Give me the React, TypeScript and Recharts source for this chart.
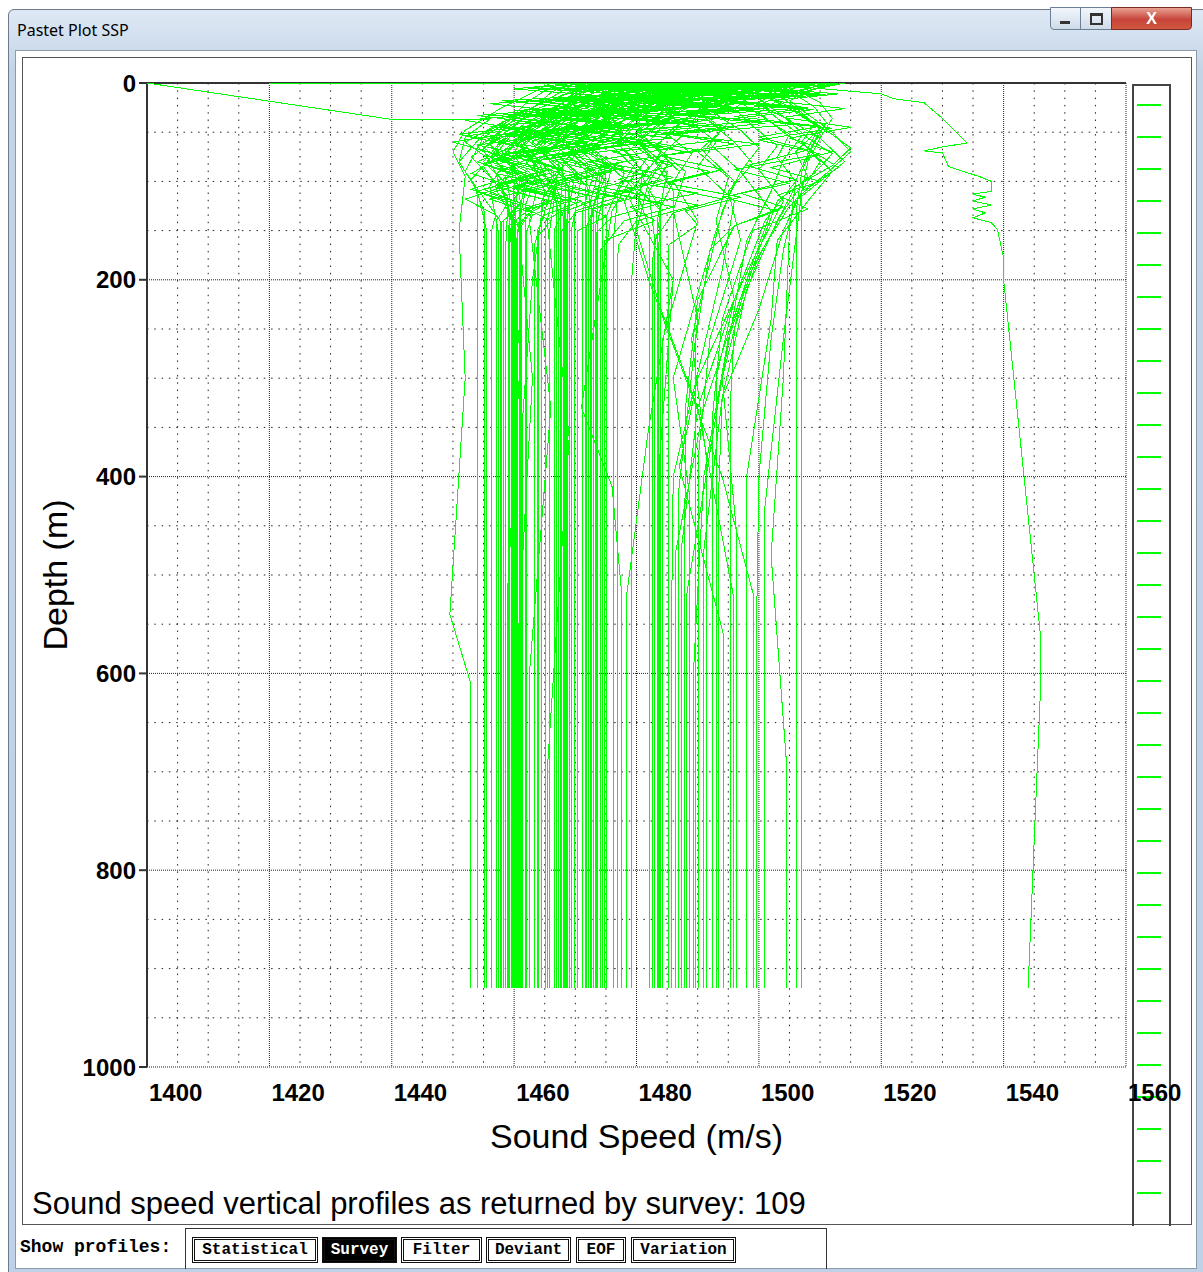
import React from 'react';
import { ScatterChart, Scatter, XAxis, YAxis, CartesianGrid } from 'recharts';

// axis ticks and grid values (m/s horizontally, m downwards)
const speedTicks = [1400, 1420, 1440, 1460, 1480, 1500, 1520, 1540, 1560];
const depthTicks = [0, 200, 400, 600, 800, 1000];
const speedMajorGrid = [1420, 1440, 1460, 1480, 1500, 1520, 1540, 1560];
const depthMajorGrid = [200, 400, 600, 800, 1000];
const speedMinorGrid = [
  1405, 1410, 1415, 1425, 1430, 1435, 1445, 1450, 1455, 1465, 1470, 1475, 1485, 1490, 1495,
  1505, 1510, 1515, 1525, 1530, 1535, 1545, 1550, 1555,
];
const depthMinorGrid = [50, 100, 150, 250, 300, 350, 450, 500, 550, 650, 700, 750, 850, 900, 950];
const topAxisTicks = [
  1400, 1405, 1410, 1415, 1420, 1425, 1430, 1435, 1440, 1445, 1450, 1455, 1460, 1465, 1470, 1475, 1480,
  1485, 1490, 1495, 1500, 1505, 1510, 1515, 1520, 1525, 1530, 1535, 1540, 1545, 1550, 1555, 1560,
];

// survey profiles, each row is speed,depth,speed,depth,...
const surveyProfiles: number[][] = [
  [1466, 0, 1463, 10, 1458, 25, 1452, 48, 1450, 70, 1452, 95, 1451, 150, 1452, 300, 1449.5, 540, 1452.9, 610, 1452.9, 920],
  [1472, 0, 1468, 12, 1461, 30, 1455, 52, 1451, 80, 1454, 110, 1454, 920],
  [1478, 0, 1470, 8, 1464, 22, 1458, 40, 1452, 60, 1456, 78, 1453, 98, 1455.1, 130, 1455.1, 920],
  [1485, 0, 1476, 6, 1472, 18, 1463, 30, 1459, 45, 1454, 65, 1458, 85, 1456, 105, 1457.4, 150, 1457.4, 920],
  [1470, 0, 1466, 15, 1460, 35, 1455, 55, 1452, 90, 1457.7, 140, 1457.7, 920],
  [1490, 0, 1484, 5, 1475, 14, 1468, 28, 1462, 40, 1458, 60, 1455, 85, 1459, 120, 1458.6, 170, 1458.6, 920],
  [1476, 0, 1471, 10, 1466, 26, 1461, 38, 1457, 58, 1453, 75, 1458.9, 115, 1461, 280, 1458.9, 520, 1458.9, 920],
  [1468, 0, 1465, 8, 1462, 20, 1458, 45, 1455, 68, 1457, 92, 1459.3, 130, 1459.3, 920],
  [1482, 0, 1478, 10, 1470, 20, 1466, 35, 1460, 50, 1457, 72, 1462, 90, 1459.6, 125, 1459.6, 920],
  [1495, 0, 1488, 6, 1480, 15, 1470, 25, 1464, 42, 1460, 62, 1457, 80, 1460, 100, 1459.9, 140, 1459.9, 920],
  [1474, 0, 1470, 12, 1468, 30, 1462, 50, 1458, 70, 1461, 95, 1460.2, 125, 1460.2, 920],
  [1480, 0, 1474, 8, 1469, 20, 1465, 36, 1459, 52, 1455, 66, 1460, 86, 1458, 104, 1460.4, 160, 1460.4, 920],
  [1487, 0, 1481, 10, 1476, 22, 1470, 32, 1466, 48, 1461, 60, 1459, 82, 1462, 105, 1460.7, 145, 1463, 300, 1460.7, 560, 1460.7, 920],
  [1471, 0, 1469, 14, 1463, 28, 1460, 44, 1456, 62, 1460, 88, 1461, 120, 1461, 920],
  [1500, 0, 1492, 5, 1485, 12, 1478, 22, 1470, 30, 1465, 45, 1461, 64, 1464, 86, 1461.8, 125, 1461.8, 920],
  [1483, 0, 1477, 12, 1473, 25, 1467, 40, 1463, 55, 1460, 75, 1464, 100, 1462.5, 140, 1466, 330, 1462.5, 600, 1462.5, 920],
  [1492, 0, 1486, 8, 1480, 18, 1474, 30, 1468, 42, 1464, 60, 1462, 80, 1466, 110, 1463.3, 165, 1463.3, 920],
  [1479, 0, 1475, 10, 1470, 24, 1467, 42, 1464, 62, 1468, 84, 1464.5, 120, 1464.5, 920],
  [1498, 0, 1490, 6, 1484, 15, 1476, 24, 1471, 38, 1466, 52, 1463, 72, 1467, 95, 1465.4, 140, 1469, 360, 1465.4, 700, 1465.4, 920],
  [1488, 0, 1482, 12, 1477, 26, 1472, 40, 1468, 58, 1464, 78, 1467, 100, 1465.8, 150, 1465.8, 920],
  [1476, 0, 1472, 6, 1478, 15, 1470, 28, 1466, 45, 1461, 60, 1463, 80, 1466, 100, 1467.2, 130, 1467.2, 920],
  [1485, 0, 1480, 10, 1486, 18, 1475, 30, 1470, 50, 1464, 68, 1468, 88, 1467.6, 120, 1467.6, 920],
  [1494, 0, 1488, 8, 1480, 16, 1473, 32, 1468, 45, 1465, 62, 1462, 82, 1466, 100, 1468, 135, 1468, 920],
  [1480, 0, 1482, 8, 1476, 20, 1470, 36, 1467, 54, 1470, 74, 1466, 96, 1468.3, 125, 1468.3, 920],
  [1502, 0, 1495, 6, 1488, 12, 1482, 22, 1476, 35, 1470, 48, 1466, 66, 1470, 90, 1468.6, 140, 1468.6, 920],
  [1473, 0, 1475, 10, 1471, 22, 1466, 40, 1463, 60, 1467, 78, 1469.1, 110, 1469.1, 920],
  [1490, 0, 1486, 12, 1479, 24, 1474, 38, 1470, 56, 1467, 72, 1471, 95, 1469.9, 135, 1469.9, 920],
  [1497, 0, 1490, 5, 1484, 14, 1486, 22, 1478, 34, 1473, 50, 1469, 70, 1473, 92, 1471.2, 130, 1471.2, 920],
  [1484, 0, 1479, 8, 1474, 22, 1472, 40, 1468, 58, 1472, 82, 1471.6, 120, 1471.6, 920],
  [1505, 0, 1498, 5, 1490, 10, 1483, 18, 1478, 30, 1474, 46, 1470, 64, 1474, 86, 1472.1, 128, 1472.1, 920],
  [1478, 0, 1476, 12, 1473, 26, 1470, 42, 1466, 60, 1470, 80, 1474, 100, 1472.5, 140, 1472.5, 920],
  [1492, 0, 1487, 8, 1482, 20, 1477, 32, 1473, 44, 1470, 62, 1475, 84, 1472.9, 125, 1472.9, 920],
  [1488, 0, 1484, 10, 1480, 22, 1476, 36, 1472, 52, 1469, 70, 1474, 95, 1473.3, 150, 1473.3, 920],
  [1499, 0, 1493, 6, 1487, 16, 1482, 28, 1477, 40, 1474, 58, 1471, 76, 1475, 100, 1473.7, 140, 1473.7, 920],
  [1481, 0, 1479, 10, 1476, 24, 1473, 40, 1471, 60, 1476, 85, 1474.5, 120, 1474.5, 920],
  [1503, 0, 1497, 5, 1490, 12, 1485, 22, 1480, 34, 1477, 50, 1473, 68, 1478, 92, 1475.1, 135, 1475.1, 920],
  [1487, 0, 1483, 8, 1480, 20, 1478, 36, 1476, 56, 1480, 80, 1477, 110, 1476.2, 160, 1476.2, 920],
  [1495, 0, 1490, 8, 1486, 18, 1482, 30, 1479, 45, 1476, 64, 1480, 88, 1476, 130, 1471, 330, 1476, 410, 1477.6, 520, 1477.6, 920],
  [1508, 0, 1500, 6, 1494, 14, 1488, 26, 1484, 40, 1480, 58, 1484, 80, 1479, 120, 1486, 200, 1482, 350, 1478.4, 520, 1478.4, 920],
  [1490, 0, 1486, 10, 1483, 24, 1480, 42, 1477, 62, 1481, 90, 1480, 140, 1479.2, 200, 1479.2, 920],
  [1486, 0, 1482, 10, 1478, 24, 1474, 40, 1470, 60, 1476, 86, 1480, 110, 1482.2, 150, 1482.2, 920],
  [1496, 0, 1490, 8, 1484, 20, 1480, 36, 1477, 52, 1482, 74, 1479, 100, 1484, 130, 1482.6, 180, 1482.6, 920],
  [1505, 0, 1499, 6, 1493, 14, 1488, 26, 1484, 42, 1480, 60, 1485, 84, 1482, 110, 1483, 160, 1483, 920],
  [1492, 0, 1490, 12, 1487, 28, 1484, 46, 1481, 66, 1485, 92, 1483.4, 140, 1483.4, 920],
  [1500, 0, 1496, 8, 1492, 20, 1490, 36, 1487, 56, 1483, 80, 1486, 110, 1486, 200, 1483.8, 380, 1483.8, 920],
  [1510, 0, 1503, 5, 1497, 12, 1492, 22, 1488, 36, 1485, 52, 1489, 72, 1486, 100, 1490, 140, 1484.3, 260, 1484.3, 920],
  [1498, 0, 1494, 10, 1491, 24, 1489, 40, 1493, 60, 1490, 85, 1496, 120, 1494, 190, 1486, 400, 1485.7, 560, 1485.7, 920],
  [1506, 0, 1500, 8, 1496, 18, 1493, 32, 1497, 48, 1500, 66, 1497, 90, 1502, 130, 1498, 200, 1491, 330, 1486.3, 480, 1486.3, 920],
  [1490, 0, 1488, 10, 1485, 26, 1487, 44, 1483, 64, 1488, 90, 1486, 130, 1490, 240, 1486.8, 420, 1486.8, 920],
  [1502, 0, 1498, 6, 1494, 16, 1490, 30, 1494, 48, 1490, 70, 1495, 96, 1493, 140, 1496, 220, 1490, 330, 1487.4, 470, 1487.4, 920],
  [1512, 0, 1506, 5, 1502, 14, 1506, 28, 1510, 46, 1506, 70, 1508, 95, 1504, 130, 1498, 200, 1494, 300, 1488.2, 520, 1488.2, 920],
  [1495, 0, 1493, 12, 1490, 28, 1494, 46, 1491, 70, 1496, 100, 1493, 150, 1486, 300, 1488.7, 420, 1488.7, 920],
  [1508, 0, 1503, 6, 1500, 16, 1504, 34, 1508, 56, 1512, 72, 1509, 92, 1503, 120, 1500, 170, 1495, 260, 1491, 400, 1489.3, 600, 1489.3, 920],
  [1500, 0, 1497, 10, 1494, 24, 1492, 40, 1496, 60, 1499, 82, 1495, 110, 1497, 160, 1492, 260, 1490.1, 380, 1490.1, 920],
  [1511, 0, 1507, 8, 1503, 18, 1500, 30, 1504, 50, 1509, 70, 1513, 86, 1507, 110, 1504, 150, 1500, 230, 1494, 320, 1490.9, 480, 1490.9, 920],
  [1497, 0, 1494, 10, 1491, 24, 1495, 40, 1492, 62, 1497, 90, 1494, 130, 1489, 260, 1491.4, 380, 1491.4, 920],
  [1504, 0, 1500, 8, 1497, 20, 1501, 36, 1505, 52, 1503, 76, 1506, 100, 1501, 140, 1496, 220, 1493, 300, 1493.1, 920],
  [1509, 0, 1505, 6, 1502, 16, 1506, 30, 1511, 48, 1515, 66, 1512, 84, 1506, 105, 1503, 140, 1498, 210, 1494, 320, 1493.4, 420, 1493.4, 920],
  [1502, 0, 1499, 12, 1496, 26, 1499, 44, 1503, 64, 1500, 88, 1504, 120, 1499, 180, 1490, 300, 1487, 390, 1494.2, 560, 1494.2, 920],
  [1513, 0, 1508, 5, 1504, 12, 1500, 22, 1505, 38, 1510, 56, 1514, 80, 1510, 100, 1505, 125, 1500, 175, 1496, 250, 1495.3, 330, 1495.3, 920],
  [1496, 0, 1492, 10, 1488, 22, 1484, 36, 1480, 52, 1485, 74, 1482, 100, 1480, 150, 1484, 230, 1490, 330, 1495.8, 520, 1495.8, 920],
  [1507, 0, 1503, 8, 1500, 20, 1503, 36, 1507, 54, 1504, 78, 1502, 110, 1498, 160, 1494, 300, 1496.4, 460, 1496.4, 920],
  [1510, 0, 1505, 6, 1502, 14, 1506, 28, 1510, 44, 1508, 66, 1512, 90, 1508, 120, 1503, 160, 1502, 240, 1498, 400, 1498, 920],
  [1494, 0, 1490, 12, 1486, 24, 1482, 40, 1478, 60, 1482, 85, 1478, 120, 1482, 200, 1488, 300, 1494, 400, 1499.1, 520, 1499.1, 920],
  [1512, 0, 1508, 8, 1505, 18, 1508, 32, 1512, 50, 1515, 70, 1511, 92, 1506, 118, 1504, 170, 1502, 260, 1500, 400, 1499.6, 560, 1499.6, 920],
  [1508, 0, 1504, 6, 1501, 14, 1505, 26, 1509, 42, 1507, 60, 1510, 80, 1507, 110, 1506, 160, 1504, 260, 1501, 430, 1501, 920],
  [1511, 0, 1507, 8, 1504, 16, 1507, 30, 1510, 48, 1508, 72, 1506, 100, 1505, 150, 1504, 300, 1502, 480, 1504.5, 690, 1504.5, 920],
  [1513, 0, 1509, 6, 1506, 12, 1509, 24, 1511, 40, 1509, 62, 1507, 90, 1506.1, 130, 1506.1, 920],
  [1514, 0, 1510, 5, 1507, 10, 1510, 20, 1512, 36, 1510, 56, 1508, 80, 1507, 110, 1507, 920],
  [1469, 0, 1466, 10, 1463, 26, 1459, 42, 1456, 62, 1460, 84, 1457, 108, 1460, 140, 1460, 920],
  [1484, 0, 1478, 10, 1472, 22, 1466, 36, 1462, 54, 1458, 74, 1462, 96, 1460.9, 130, 1460.9, 920],
  [1486, 0, 1481, 8, 1476, 22, 1471, 36, 1468, 54, 1465, 74, 1469, 100, 1468.8, 125, 1468.8, 920],
  [1493, 0, 1489, 10, 1484, 22, 1479, 34, 1475, 50, 1471, 68, 1475, 94, 1472.7, 130, 1472.7, 920],
  [1489, 0, 1487, 12, 1484, 30, 1480, 48, 1484, 70, 1481, 96, 1484, 130, 1483.6, 170, 1483.6, 920],
  [1503, 0, 1498, 6, 1494, 16, 1490, 30, 1486, 46, 1483, 66, 1487, 90, 1484, 125, 1484, 920],
  [1477, 0, 1473, 10, 1468, 24, 1464, 40, 1460, 58, 1463, 80, 1465, 110, 1463, 200, 1461.4, 340, 1461.4, 920],
  [1474, 0, 1470, 10, 1467, 24, 1462, 40, 1458, 58, 1455, 80, 1459, 104, 1459.8, 140, 1459.8, 920],
  [1480, 0, 1477, 10, 1474, 24, 1477, 42, 1472, 60, 1468, 80, 1472, 106, 1473, 140, 1473, 920],
  [1475, 0, 1472, 8, 1469, 20, 1465, 34, 1461, 52, 1465, 72, 1468.4, 100, 1468.4, 920],
  [1482, 0, 1470, 4, 1488, 9, 1466, 15, 1480, 21, 1460, 28, 1474, 35, 1456, 44, 1468, 52, 1454, 63, 1463, 75, 1457, 92, 1466, 104, 1456, 118, 1463, 132, 1459, 150, 1459, 920],
  [1495, 0, 1478, 5, 1497, 11, 1472, 17, 1490, 24, 1468, 31, 1484, 40, 1462, 50, 1475, 60, 1460, 72, 1468, 88, 1461, 100, 1472, 114, 1462, 128, 1466, 140, 1464, 155, 1464, 920],
  [1504, 0, 1486, 4, 1500, 10, 1480, 16, 1496, 22, 1476, 30, 1492, 38, 1470, 47, 1486, 56, 1468, 66, 1478, 80, 1469, 94, 1480, 108, 1471, 122, 1475, 136, 1470.4, 150, 1470.4, 920],
  [1476, 0, 1464, 6, 1480, 12, 1460, 19, 1472, 26, 1455, 34, 1466, 42, 1452, 54, 1462, 66, 1456, 80, 1463, 94, 1455, 108, 1461, 122, 1458.2, 140, 1458.2, 920],
  [1509, 0, 1492, 5, 1506, 10, 1488, 16, 1503, 23, 1484, 30, 1500, 39, 1480, 48, 1494, 58, 1476, 70, 1486, 84, 1477, 98, 1490, 112, 1479, 126, 1483, 140, 1474.8, 160, 1474.8, 920],
  [1488, 0, 1474, 5, 1492, 10, 1470, 18, 1486, 25, 1465, 33, 1478, 41, 1461, 50, 1472, 60, 1458, 72, 1467, 86, 1459, 100, 1468, 114, 1463, 128, 1461.2, 145, 1461.2, 920],
  [1499, 0, 1484, 6, 1502, 12, 1480, 18, 1497, 26, 1474, 34, 1490, 43, 1469, 52, 1482, 64, 1466, 76, 1476, 90, 1467, 104, 1478, 118, 1470, 132, 1467.8, 150, 1467.8, 920],
  [1512, 0, 1498, 5, 1510, 11, 1494, 17, 1508, 25, 1490, 33, 1506, 42, 1486, 52, 1500, 62, 1484, 74, 1494, 88, 1485, 102, 1497, 116, 1488, 130, 1490, 144, 1485.2, 165, 1485.2, 920],
  [1470, 0, 1460, 6, 1474, 13, 1456, 21, 1468, 29, 1452, 38, 1462, 48, 1450, 60, 1458, 74, 1453, 92, 1459, 104, 1452, 118, 1457, 134, 1456.3, 150, 1456.3, 920],
  [1493, 0, 1476, 5, 1496, 11, 1471, 18, 1488, 26, 1466, 34, 1480, 43, 1462, 53, 1474, 64, 1462, 78, 1470, 92, 1461, 106, 1471, 120, 1465, 134, 1463.8, 150, 1463.8, 920],
  [1506, 0, 1490, 6, 1504, 12, 1486, 19, 1500, 27, 1482, 35, 1496, 45, 1478, 56, 1490, 68, 1476, 82, 1486, 96, 1478, 110, 1490, 124, 1480, 140, 1477, 165, 1476.9, 200, 1476.9, 920],
  [1485, 0, 1470, 5, 1486, 11, 1466, 18, 1481, 25, 1462, 33, 1476, 42, 1458, 52, 1468, 64, 1457, 78, 1465, 92, 1457, 106, 1466, 120, 1462, 134, 1460.5, 150, 1460.5, 920],
  [1501, 0, 1485, 4, 1499, 9, 1479, 15, 1494, 22, 1474, 30, 1489, 38, 1470, 48, 1482, 59, 1468, 72, 1478, 86, 1469, 100, 1481, 114, 1473, 128, 1471.9, 145, 1471.9, 920],
  [1510, 0, 1496, 6, 1511, 12, 1492, 19, 1509, 27, 1496, 36, 1512, 46, 1500, 58, 1510, 72, 1496, 88, 1505, 102, 1494, 116, 1503, 130, 1496, 145, 1492, 170, 1489.7, 260, 1489.7, 920],
  [1479, 0, 1466, 5, 1482, 11, 1462, 18, 1476, 26, 1458, 34, 1470, 44, 1455, 55, 1463, 68, 1457, 84, 1464, 98, 1456, 112, 1463, 126, 1459.1, 145, 1459.1, 920],
  [1497, 0, 1480, 5, 1498, 11, 1476, 17, 1492, 24, 1470, 32, 1486, 41, 1466, 51, 1478, 62, 1464, 75, 1473, 89, 1465, 103, 1474, 117, 1468, 131, 1466.6, 148, 1466.6, 920],
  [1503, 0, 1488, 6, 1505, 12, 1484, 19, 1500, 27, 1480, 36, 1495, 46, 1476, 57, 1488, 70, 1474, 84, 1484, 98, 1476, 112, 1486, 126, 1478, 140, 1474.1, 170, 1474.1, 920],
  [1490, 0, 1474, 5, 1493, 10, 1468, 17, 1484, 24, 1463, 32, 1476, 41, 1459, 51, 1470, 62, 1456, 75, 1465, 89, 1457, 103, 1467, 117, 1460, 131, 1460.8, 150, 1460.8, 920],
  [1511, 0, 1500, 5, 1513, 11, 1502, 18, 1514, 26, 1504, 35, 1515, 45, 1505, 56, 1512, 70, 1502, 86, 1510, 100, 1503, 114, 1508, 128, 1499, 150, 1494, 240, 1492.4, 340, 1492.4, 920],
  [1484, 0, 1468, 6, 1486, 12, 1464, 19, 1478, 27, 1460, 35, 1472, 45, 1456, 56, 1466, 68, 1455, 82, 1462, 96, 1454, 110, 1461, 124, 1457.9, 142, 1457.9, 920],
  [1498, 0, 1482, 5, 1500, 10, 1477, 16, 1494, 23, 1472, 31, 1488, 40, 1468, 50, 1481, 61, 1466, 74, 1476, 88, 1467, 102, 1477, 116, 1470, 130, 1469.4, 148, 1469.4, 920],
  [1507, 0, 1494, 5, 1508, 10, 1490, 16, 1505, 24, 1486, 32, 1501, 41, 1484, 51, 1496, 62, 1482, 76, 1492, 90, 1483, 104, 1494, 118, 1486, 132, 1482.9, 160, 1482.9, 920],
  [1474, 0, 1462, 5, 1478, 11, 1458, 18, 1470, 25, 1454, 33, 1465, 42, 1451, 52, 1460, 64, 1454, 80, 1460, 94, 1453, 108, 1459, 122, 1457.1, 140, 1457.1, 920],
  [1492, 0, 1478, 6, 1494, 12, 1473, 19, 1487, 27, 1468, 35, 1480, 45, 1464, 55, 1474, 67, 1463, 80, 1471, 94, 1462, 108, 1470, 122, 1465.1, 140, 1465.1, 920],
  [1509, 0, 1496, 5, 1510, 11, 1494, 18, 1508, 26, 1496, 34, 1510, 44, 1500, 55, 1508, 68, 1498, 84, 1506, 98, 1497, 112, 1504, 126, 1496, 145, 1490, 220, 1488, 330, 1487.9, 460, 1487.9, 920],
  [1487, 0, 1472, 5, 1490, 11, 1468, 18, 1482, 26, 1464, 34, 1476, 43, 1460, 53, 1470, 65, 1459, 78, 1468, 92, 1460, 106, 1469, 120, 1463, 134, 1462.1, 150, 1462.1, 920],
  [1500, 0, 1486, 6, 1502, 12, 1482, 19, 1496, 27, 1478, 35, 1492, 44, 1474, 54, 1486, 66, 1472, 80, 1482, 94, 1473, 108, 1484, 122, 1476, 136, 1473.5, 152, 1473.5, 920],
  [1400, 0, 1440, 37, 1456, 37, 1452, 55, 1451, 80, 1454, 110, 1455.5, 150, 1455.5, 920],
  [1420, 1, 1470, 1, 1490, 1, 1478, 8, 1472, 20, 1466, 38, 1461, 56, 1464, 80, 1466.9, 120, 1466.9, 920],
  [
    1505, 3, 1520, 11, 1522, 16, 1527, 20, 1530, 36, 1534, 61, 1530, 65, 1527, 69, 1530, 71, 1531, 85, 1536, 95,
    1538, 100, 1538, 110, 1535, 113, 1537, 116, 1535, 120, 1538, 124, 1535, 128, 1537, 132, 1535, 137, 1538, 142,
    1539, 149, 1540, 178, 1540, 200, 1546, 560, 1546, 620, 1544, 920,
  ],
];

const profileButtons = ['Statistical', 'Survey', 'Filter', 'Deviant', 'EOF', 'Variation'];
const activeButton = 'Survey';
const legendRows = 35;

const GREEN = '#00ff00';
const AXIS = '#333';

function toPoints(row: number[]) {
  const pts: { speed: number; depth: number }[] = [];
  for (let i = 0; i < row.length; i += 2) pts.push({ speed: row[i], depth: row[i + 1] });
  return pts;
}

const profileData = surveyProfiles.map(toPoints);

const NoDot = () => <g />;

const TopTick = (props: any) => {
  const { x, y, payload } = props;
  const major = payload.value % 20 === 0;
  return <line x1={x} y1={y} x2={x} y2={y - (major ? 9 : 4)} stroke={AXIS} strokeWidth={major ? 2 : 1.5} />;
};

const BottomTick = (props: any) => {
  const { x, y, payload } = props;
  return (
    <text x={x + 2} y={y + 34} textAnchor="start" fontSize={24} fontWeight={700} fill="#000">
      {payload.value}
    </text>
  );
};

export default function App() {
  const buttonLefts = [192, 322, 401, 486, 576, 631];
  const buttonWidths = [126, 75, 81, 85, 50, 105];
  return (
    <div
      style={{
        position: 'fixed', left: 0, top: 0, width: 1203, height: 1272, background: '#fff', overflow: 'hidden',
        fontFamily: '"Liberation Sans", Arial, sans-serif',
      }}
    >
      {/* window frame */}
      <div style={{ position: 'absolute', left: 8, top: 9, width: 1200, height: 1270, border: '1px solid #6b7a8c', borderRadius: 6, background: 'linear-gradient(#dfe9f5, #c3d4e7 60px, #bfd1e6)' }} />
      <div style={{ position: 'absolute', left: 17, top: 19, fontFamily: '"Noto Sans", sans-serif', fontSize: 16, color: '#000' }}>Pastet Plot SSP</div>
      <div style={{ position: 'absolute', left: 1050, top: 7, width: 29, height: 21, border: '1px solid #6d7f95', borderRadius: '0 0 0 4px', background: 'linear-gradient(#f2f6fb, #cfdbe9)' }}>
        <div style={{ position: 'absolute', left: 9, top: 13, width: 10, height: 3, background: '#333' }} />
      </div>
      <div style={{ position: 'absolute', left: 1080, top: 7, width: 30, height: 21, border: '1px solid #6d7f95', background: 'linear-gradient(#f2f6fb, #cfdbe9)' }}>
        <div style={{ position: 'absolute', left: 9, top: 5, width: 9, height: 7, border: '2px solid #333', borderTopWidth: 3 }} />
      </div>
      <div style={{ position: 'absolute', left: 1111, top: 7, width: 79, height: 21, border: '1px solid #7a2a22', borderRadius: '0 0 4px 0', background: 'linear-gradient(#e8a291, #c7443a 55%, #d0593f)', color: '#fff', fontSize: 16, fontWeight: 700, textAlign: 'center', lineHeight: '21px' }}>X</div>

      {/* client area */}
      <div style={{ position: 'absolute', left: 15, top: 50, width: 1180, height: 1217, background: '#fff', border: '1px solid #8d9aa8' }} />
      <div style={{ position: 'absolute', left: 22, top: 57, width: 1168, height: 1166, border: '1px solid #555' }} />

      {/* profile list */}
      <div style={{ position: 'absolute', left: 1132, top: 84, width: 35, height: 1140, border: '2px solid #444', borderBottom: 'none' }}>
        {profileData.slice(0, legendRows).map((_, i) => (
          <div key={i} style={{ position: 'absolute', left: 3, top: 18 + i * 32, width: 24, height: 2, background: GREEN }} />
        ))}
      </div>

      <div style={{ position: 'absolute', left: 0, top: 0 }}>
        <ScatterChart width={1200} height={1180} margin={{ top: 73, left: 87, right: 74, bottom: 73 }}>
          <CartesianGrid stroke="#222" strokeDasharray="1.5 5.8" verticalValues={speedMinorGrid} horizontalValues={depthMinorGrid} />
          <CartesianGrid stroke="#222" strokeDasharray="1 1" verticalValues={speedMajorGrid} horizontalValues={depthMajorGrid} />
          <XAxis
            type="number"
            dataKey="speed"
            domain={[1400, 1560]}
            ticks={speedTicks}
            interval={0}
            height={40}
            tickSize={0}
            tickMargin={0}
            tickLine={false}
            axisLine={false}
            tick={<BottomTick />}
            label={{ value: 'Sound Speed (m/s)', position: 'bottom', offset: 17, fontSize: 34, fill: '#000' }}
          />
          <XAxis
            xAxisId="top"
            orientation="top"
            type="number"
            dataKey="speed"
            domain={[1400, 1560]}
            ticks={topAxisTicks}
            interval={0}
            height={10}
            tickSize={0}
            tickMargin={0}
            tickLine={false}
            axisLine={{ stroke: AXIS, strokeWidth: 2 }}
            tick={<TopTick />}
          />
          <YAxis
            type="number"
            dataKey="depth"
            reversed
            domain={[0, 1000]}
            ticks={depthTicks}
            interval={0}
            width={60}
            tickSize={8}
            tickMargin={3}
            tickLine={{ stroke: AXIS, strokeWidth: 2 }}
            axisLine={{ stroke: AXIS, strokeWidth: 2 }}
            tick={{ fill: '#000', fontSize: 24, fontWeight: 700 }}
            label={{ value: 'Depth (m)', angle: -90, position: 'left', offset: 32, fontSize: 34, fill: '#000', style: { textAnchor: 'middle' } }}
          />
          {profileData.map((pts, i) => (
            <Scatter
              key={i}
              data={pts}
              fill={GREEN}
              line={{ stroke: GREEN, strokeWidth: 1, shapeRendering: 'crispEdges' }}
              shape={NoDot}
              isAnimationActive={false}
            />
          ))}
        </ScatterChart>
      </div>

      {/* status text and buttons */}
      <div style={{ position: 'absolute', left: 32, top: 1186, fontSize: 31, color: '#000', whiteSpace: 'nowrap' }}>
        Sound speed vertical profiles as returned by survey: {surveyProfiles.length}
      </div>
      <div style={{ position: 'absolute', left: 20, top: 1237, fontFamily: '"Liberation Mono", monospace', fontWeight: 700, fontSize: 18, color: '#000' }}>Show profiles:</div>
      <div style={{ position: 'absolute', left: 185, top: 1228, width: 640, height: 40, border: '1px solid #333', borderBottom: 'none' }} />
      {profileButtons.map((b, i) => (
        <div
          key={b}
          style={{
            position: 'absolute', left: buttonLefts[i], top: 1237, width: buttonWidths[i], height: 26, boxSizing: 'border-box',
            border: '3px double #111', background: b === activeButton ? '#000' : '#fff', color: b === activeButton ? '#fff' : '#000',
            fontFamily: '"Liberation Mono", monospace', fontWeight: 700, fontSize: 16, lineHeight: '20px', textAlign: 'center',
          }}
        >
          {b}
        </div>
      ))}
    </div>
  );
}
